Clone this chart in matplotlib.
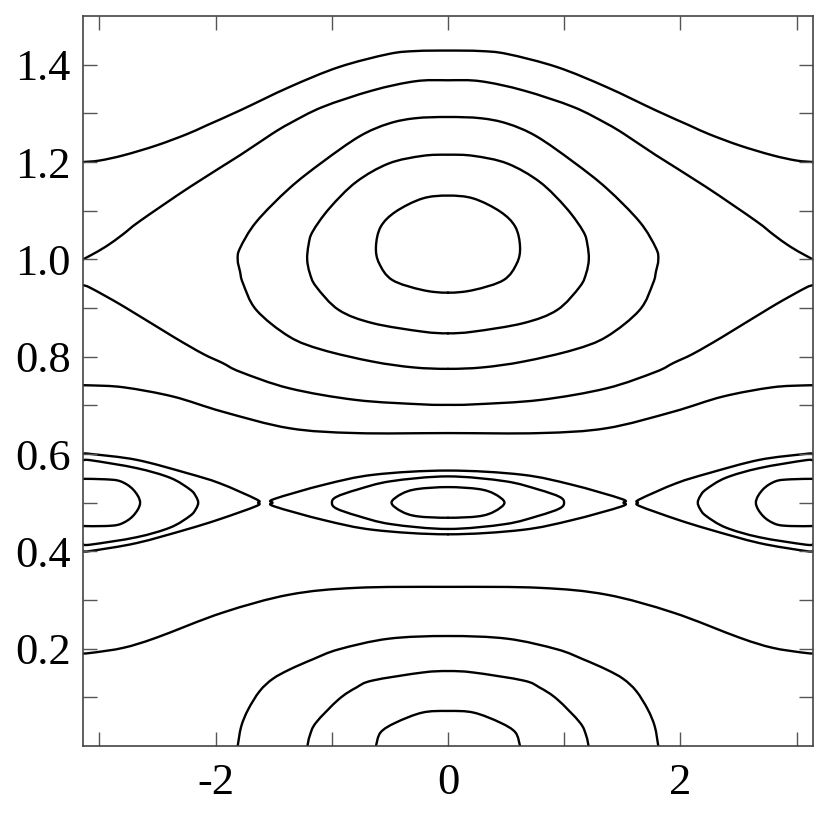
import numpy as np
import matplotlib
matplotlib.use("Agg")
import matplotlib.pyplot as plt
from matplotlib.path import Path
from matplotlib.patches import PathPatch

PI = np.pi

# right half (x >= 0) of each curve; the plot is mirror symmetric in x
# curves that run across the whole width
top_curve = [(0, 1.429), (0.28, 1.428), (0.51, 1.422), (0.94, 1.395), (1.365, 1.354),
             (1.79, 1.306), (2.08, 1.275), (2.25, 1.257), (2.51, 1.234), (2.79, 1.214),
             (3.0, 1.203), (PI, 1.200)]
upper_sep = [(0, 1.368), (0.28, 1.366), (0.65, 1.347), (1.08, 1.313), (1.365, 1.279),
             (1.52, 1.257), (1.79, 1.214), (2.22, 1.149), (2.65, 1.079), (2.80, 1.051),
             (2.94, 1.027), (3.07, 1.009), (PI, 1.000)]
lower_sep = [(0, 0.701), (0.22, 0.702), (0.79, 0.711), (1.365, 0.735), (1.79, 0.769),
             (1.94, 0.787), (2.11, 0.806), (2.365, 0.841), (2.79, 0.903), (3.07, 0.9405),
             (PI, 0.947)]
mid_curve = [(0, 0.643), (0.79, 0.643), (1.365, 0.653), (1.94, 0.687), (2.365, 0.718),
             (2.79, 0.737), (3.07, 0.741), (PI, 0.741)]
low_curve = [(0, 0.327), (0.79, 0.325), (1.365, 0.311), (1.94, 0.274), (2.51, 0.2226),
             (2.79, 0.202), (3.05, 0.192), (PI, 0.190)]

# closed orbits of the island around (0, 1)
island1 = [
    [(0, 1.2925), (0.28, 1.290), (0.51, 1.279), (0.76, 1.253), (1.08, 1.200), (1.365, 1.146),
     (1.65, 1.077), (1.79, 1.023), (1.81, 0.999), (1.79, 0.975), (1.765, 0.951), (1.65, 0.896),
     (1.365, 0.841), (1.08, 0.814), (0.65, 0.790), (0.30, 0.778), (0, 0.775)],
    [(0, 1.215), (0.22, 1.2126), (0.51, 1.197), (0.79, 1.159), (1.02, 1.105), (1.165, 1.057),
     (1.20, 1.030), (1.212, 1.000), (1.19, 0.972), (1.135, 0.944), (0.94, 0.896),
     (0.65, 0.869), (0.22, 0.8515), (0, 0.848)],
    [(0, 1.131), (0.22, 1.125), (0.45, 1.098), (0.579, 1.067), (0.62, 1.026), (0.593, 0.992),
     (0.479, 0.9575), (0.22, 0.937), (0, 0.9315)],
]

# period-2 chain at 0.5: island centred on x = 0
island_half_mid = [
    [(0, 0.566), (0.636, 0.5575), (1.065, 0.537), (1.494, 0.5077), (1.51, 0.500),
     (1.494, 0.4923), (1.065, 0.464), (0.636, 0.444), (0, 0.435)],
    [(0, 0.554), (0.493, 0.544), (0.779, 0.527), (0.96, 0.512), (0.999, 0.500),
     (0.96, 0.488), (0.779, 0.473), (0.493, 0.456), (0, 0.446)],
    [(0, 0.532), (0.264, 0.528), (0.40, 0.518), (0.486, 0.500), (0.40, 0.482),
     (0.264, 0.472), (0, 0.469)],
]
# island centred on x = +-pi
island_half_pi = [
    [(PI, 0.601), (3.07, 0.600), (2.68, 0.588), (2.25, 0.561), (1.966, 0.540), (1.65, 0.507),
     (1.635, 0.500), (1.65, 0.493), (1.966, 0.466), (2.25, 0.445), (2.68, 0.417),
     (3.07, 0.401), (PI, 0.400)],
    [(PI, 0.587), (3.07, 0.587), (2.68, 0.571), (2.39, 0.551), (2.22, 0.527), (2.17, 0.513),
     (2.15, 0.500), (2.17, 0.487), (2.22, 0.473), (2.39, 0.449), (2.68, 0.429),
     (3.07, 0.414), (PI, 0.414)],
    [(PI, 0.549), (2.95, 0.548), (2.82, 0.544), (2.71, 0.527), (2.65, 0.500), (2.71, 0.473),
     (2.82, 0.456), (2.95, 0.452), (PI, 0.452)],
]

# island around (0, 0)
island0 = [
    [(0, 0.226), (0.51, 0.2205), (0.94, 0.1986), (1.165, 0.178), (1.365, 0.157),
     (1.508, 0.138), (1.62, 0.113), (1.72, 0.075), (1.78, 0.040), (1.81, 0.0)],
    [(0, 0.154), (0.22, 0.151), (0.65, 0.1345), (0.79, 0.120), (0.94, 0.096),
     (1.136, 0.048), (1.19, 0.021), (1.21, 0.0)],
    [(0, 0.072), (0.22, 0.0687), (0.45, 0.048), (0.58, 0.028), (0.62, 0.0)],
]

x_ticks = [-2, 0, 2]
x_minor = [-3, -1, 1, 3]
y_ticks = [0.2, 0.4, 0.6, 0.8, 1.0, 1.2, 1.4]
y_minor = [0.1, 0.3, 0.5, 0.7, 0.9, 1.1, 1.3]


def full_curve(half):
    # right half starting at x = 0 -> mirrored left part + right part
    pts = np.array(half, dtype=float)
    left = pts[::-1].copy()
    left[:, 0] *= -1
    return np.vstack([left, pts[1:]])


def smooth_path(pts):
    # cubic bezier through the read points (catmull-rom tangents), drawing only
    p = np.asarray(pts, dtype=float)
    closed = np.allclose(p[0], p[-1])
    if closed:
        ext = np.vstack([p[-2], p, p[1]])
    else:
        ext = np.vstack([p[0], p, p[-1]])
    verts = [p[0]]
    codes = [Path.MOVETO]
    for i in range(1, len(ext) - 2):
        p0, p1, p2, p3 = ext[i - 1], ext[i], ext[i + 1], ext[i + 2]
        verts += [p1 + (p2 - p0) / 6.0, p2 - (p3 - p1) / 6.0, p2]
        codes += [Path.CURVE4] * 3
    return Path(verts, codes)


plt.rcParams['font.family'] = ['Liberation Serif', 'DejaVu Serif']
fig = plt.figure(figsize=(8.3, 8.3), dpi=100)
ax = fig.add_axes([0.1, 0.1012, 0.8795, 0.8795])


def draw(pts):
    ax.add_patch(PathPatch(smooth_path(pts), fill=False, edgecolor='black', lw=1.7,
                           joinstyle='round', capstyle='round'))


for half in [top_curve, upper_sep, lower_sep, mid_curve, low_curve] + island1 + island_half_mid + island0:
    draw(full_curve(half))

for half in island_half_pi:
    c = np.array(half, dtype=float)
    draw(c)
    draw(c * [-1, 1])

ax.set_xlim(-PI, PI)
ax.set_ylim(0, 1.5)

ax.set_xticks(x_ticks, ['-2', '0', '2'])
ax.set_xticks(x_minor, minor=True)
ax.set_yticks(y_ticks, [f'{v:.1f}' for v in y_ticks])
ax.set_yticks(y_minor, minor=True)

ax.tick_params(which='both', direction='in', top=True, right=True, length=10,
               width=1, color='#555555')
ax.tick_params(axis='x', which='major', labelsize=32, pad=12)
ax.tick_params(axis='y', which='major', labelsize=32, pad=9)
for s in ax.spines.values():
    s.set_color('#444444')
    s.set_linewidth(1.2)

fig.savefig('out.png', dpi=100)
